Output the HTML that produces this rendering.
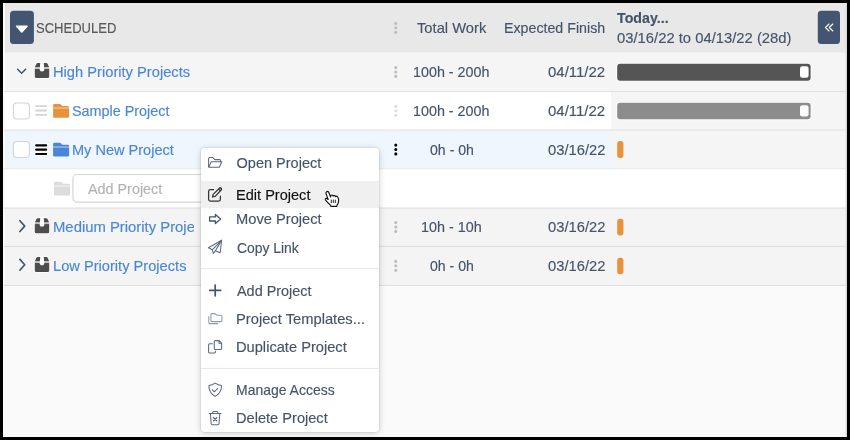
<!DOCTYPE html>
<html>
<head>
<meta charset="utf-8">
<title>Scheduled</title>
<style>
*{box-sizing:border-box;margin:0;padding:0}
html,body{width:850px;height:440px;overflow:hidden;background:#000}
body{font-family:"Liberation Sans",sans-serif;font-size:14.5px;color:#44546a;position:relative}
#app{position:absolute;left:3px;top:3px;width:844px;height:434px;background:#fafafa;overflow:hidden}
#c{position:absolute;left:-3px;top:-3px;width:850px;height:440px}
#bg,#fg{position:absolute;left:0;top:0}
.t{position:absolute;white-space:nowrap;line-height:20px;height:20px;transform-origin:0 50%;-webkit-text-stroke:0.15px currentColor}
.link{color:#4a86d8}
.b{font-weight:bold}
.clip{position:absolute;overflow:hidden}
</style>
</head>
<body>
<div id="app"><div id="c">

<svg id="bg" width="850" height="440" viewBox="0 0 850 440">
  <!-- base -->
  <rect x="0" y="0" width="850" height="440" fill="#fafafa"/>
  <!-- header -->
  <rect x="5" y="0" width="845" height="52.7" fill="#e8e8e8"/>
  <!-- rows -->
  <rect x="5" y="52.7" width="845" height="38.3" fill="#f5f5f5"/>
  <rect x="5" y="91" width="606" height="39" fill="#ffffff"/>
  <rect x="611" y="91" width="239" height="77.5" fill="#f5f5f5"/>
  <rect x="5" y="130" width="606" height="38.5" fill="#eff6fd"/>
  <rect x="5" y="168.5" width="845" height="39.2" fill="#ffffff"/>
  <rect x="5" y="207.7" width="845" height="77.6" fill="#f4f4f4"/>
  <!-- separators -->
  <g fill="#e2e2e2">
    <rect x="4" y="91" width="846" height="1"/>
    <rect x="4" y="129.6" width="846" height="1"/>
    <rect x="4" y="168.25" width="846" height="1" fill="#e6e6e6"/>
    <rect x="4" y="207.6" width="846" height="1" fill="#dddddd"/>
    <rect x="4" y="245.9" width="846" height="1" fill="#dcdcdc"/>
    <rect x="4" y="284.9" width="846" height="1" fill="#dcdcdc"/>
  </g>
  <!-- edges -->
  
  <rect x="845.6" y="3" width="1.4" height="434" fill="#dadada"/>

  <!-- header buttons -->
  <rect x="10" y="10.7" width="23.9" height="33.2" rx="3.5" fill="#435570"/>
  <path d="M16.6 26.2 H27 L21.8 32 Z" fill="#fff" stroke="#fff" stroke-width="1.6" stroke-linejoin="round"/>
  <rect x="817.8" y="10.7" width="22.2" height="33.2" rx="3.5" fill="#435570"/>
  <path d="M829 24 L825.5 27.5 L829 31 M832.8 24 L829.3 27.5 L832.8 31" fill="none" stroke="#fff" stroke-width="1.1" stroke-linecap="round" stroke-linejoin="round"/>

  <!-- vertical ellipsis -->
  <g fill="#bdbdbd">
    <circle cx="395.8" cy="23.4" r="1.55"/><circle cx="395.8" cy="27.8" r="1.55"/><circle cx="395.8" cy="32.2" r="1.55"/>
    <circle cx="395.8" cy="67.6" r="1.55"/><circle cx="395.8" cy="72" r="1.55"/><circle cx="395.8" cy="76.4" r="1.55"/>
    <circle cx="395.8" cy="222.6" r="1.55"/><circle cx="395.8" cy="227" r="1.55"/><circle cx="395.8" cy="231.4" r="1.55"/>
    <circle cx="395.8" cy="261.4" r="1.55"/><circle cx="395.8" cy="265.8" r="1.55"/><circle cx="395.8" cy="270.2" r="1.55"/>
  </g>
  <g fill="#dddddd">
    <circle cx="395.8" cy="106.4" r="1.55"/><circle cx="395.8" cy="110.8" r="1.55"/><circle cx="395.8" cy="115.2" r="1.55"/>
  </g>
  <g fill="#000" stroke="#fff" stroke-width="1.2" paint-order="stroke">
    <circle cx="395.8" cy="145.1" r="1.55"/><circle cx="395.8" cy="149.5" r="1.55"/><circle cx="395.8" cy="153.9" r="1.55"/>
  </g>

  <!-- chevrons -->
  <path d="M17.6 69.2 L21.6 73.2 L25.6 69.2" fill="none" stroke="#44546a" stroke-width="1.5" stroke-linecap="round" stroke-linejoin="round"/>
  <path d="M19.9 220.7 L24.7 226.1 L19.9 231.5" fill="none" stroke="#44546a" stroke-width="1.7" stroke-linecap="round" stroke-linejoin="round"/>
  <path d="M19.9 259.4 L24.7 264.8 L19.9 270.2" fill="none" stroke="#44546a" stroke-width="1.7" stroke-linecap="round" stroke-linejoin="round"/>

  <!-- package icons -->
  <defs>
    <g id="pkg">
      <path d="M2.6 0 H11.8 Q12.4 0 12.7 0.6 L14.4 4.2 H0 L1.7 0.6 Q2 0 2.6 0 Z" fill="#4d4d4d" stroke="#fff" stroke-width="1.4" paint-order="stroke" stroke-linejoin="round"/>
      <path d="M0 5.8 H14.4 V13.4 Q14.4 15 12.8 15 H1.6 Q0 15 0 13.4 Z" fill="#4d4d4d" stroke="#fff" stroke-width="1.4" paint-order="stroke" stroke-linejoin="round"/>
      <rect x="0" y="4.2" width="14.4" height="1.6" fill="#bdbdbd"/>
      <path d="M5.5 -0.8 H8.9 L9.5 6.6 Q9.5 8.4 7.2 8.4 Q4.9 8.4 4.9 6.6 Z" fill="#fff"/>
    </g>
    <g id="fold">
      <path d="M1.4 0 H6.6 Q7.3 0 7.8 0.5 L9.2 2 H14.6 Q16 2 16 3.4 V3.6 H0 V1.4 Q0 0 1.4 0 Z"/>
      <path d="M0 4.6 H16 V12.4 Q16 13.8 14.6 13.8 H1.4 Q0 13.8 0 12.4 Z"/>
    </g>
    <g id="chk">
      <rect x="0.5" y="0.5" width="16" height="16" rx="3.5" fill="#fff" stroke="#d4d4d4" stroke-width="1.1"/>
    </g>
  </defs>
  <use href="#pkg" x="34.8" y="63.1"/>
  <use href="#pkg" x="34.8" y="218.3"/>
  <use href="#pkg" x="34.8" y="257"/>

  <!-- checkboxes -->
  <use href="#chk" x="12.9" y="102.5"/>
  <use href="#chk" x="12.9" y="141"/>

  <!-- drag handles -->
  <g stroke="#d4d4d4" stroke-width="1.8" stroke-linecap="round">
    <path d="M36.1 106.1 H46.2 M36.1 110.5 H46.2 M36.1 114.9 H46.2"/>
  </g>
  <g stroke="#fff" stroke-width="3.6" stroke-linecap="round">
    <path d="M36.2 145.4 H46.1 M36.2 149.7 H46.1 M36.2 154 H46.1"/>
  </g>
  <g stroke="#000" stroke-width="2.2" stroke-linecap="round">
    <path d="M36.2 145.4 H46.1 M36.2 149.7 H46.1 M36.2 154 H46.1"/>
  </g>

  <!-- folders -->
  <rect x="53.1" y="107" width="16" height="2" fill="#f6d3b0"/>
  <use href="#fold" x="53.1" y="104" fill="#e8923c"/>
  <rect x="53.1" y="145.8" width="16" height="2" fill="#b4cdf0"/>
  <use href="#fold" x="53.1" y="142.8" fill="#4a86d8"/>
  <rect x="54" y="184.6" width="16" height="2" fill="#eeeeee"/>
  <use href="#fold" x="54" y="181.8" fill="#dcdcdc"/>

  <!-- add-project input -->
  <rect x="72.9" y="174.5" width="200" height="27.6" rx="4" fill="#fff" stroke="#d6d6d6" stroke-width="1.15"/>

  <!-- gantt bars -->
  <rect x="616.3" y="62.9" width="195.2" height="18.7" rx="3.8" fill="#fff" opacity=".85"/>
  <rect x="617.2" y="63.8" width="193.4" height="16.9" rx="3" fill="#555555"/>
  <rect x="800" y="66.2" width="8.6" height="11.6" rx="2.3" fill="#fff"/>
  <rect x="616.3" y="101.8" width="195.2" height="18.4" rx="3.8" fill="#fff" opacity=".85"/>
  <rect x="617.2" y="102.7" width="193.4" height="16.6" rx="3" fill="#8c8c8c"/>
  <rect x="800" y="105.2" width="8.6" height="11.4" rx="2.3" fill="#fff"/>
  <rect x="617.2" y="141" width="6.2" height="16.9" rx="2.7" fill="#e8923c"/>
  <rect x="617.2" y="218.8" width="6.2" height="16.6" rx="2.7" fill="#e8923c"/>
  <rect x="617.2" y="257.7" width="6.2" height="16.5" rx="2.7" fill="#e8923c"/>
</svg>

<!-- clipped project name (column edge) -->
<div class="clip" style="left:40px;top:208px;width:154.4px;height:38px;will-change:transform"><div class="t link" style="left:13.48px;top:9.30px;transform:scaleX(1.0240)">Medium Priority Projects</div></div>

<!-- context menu -->
<div style="position:absolute;left:201px;top:147.5px;width:178px;height:284px;background:#fff;border-radius:4px;box-shadow:0 0 0 1px rgba(0,0,0,.05),0 1px 6px rgba(0,0,0,.2)"></div>
<svg id="fg" width="850" height="440" viewBox="0 0 850 440">
  <rect x="201" y="181" width="178" height="27.2" fill="#f0f0f0"/>
  <rect x="201" y="268.1" width="178" height="1" fill="#e6e6e6"/>
  <rect x="201" y="367.9" width="178" height="1" fill="#e6e6e6"/>
  <g fill="none" stroke="#5a6a80" stroke-width="1.05" stroke-linecap="round" stroke-linejoin="round">
    <!-- open folder -->
    <path d="M208.6 166.6 V158.6 Q208.6 157.5 209.7 157.5 H212.8 L214.8 159.6 H219.6 Q220.6 159.6 220.6 160.6 V161.6"/>
    <path d="M211.2 161.8 H221.8 L219.4 167.3 H208.8 Z"/>
    <!-- move arrow -->
    <path d="M209.6 216.9 H215.4 V214.4 L220.6 218.95 L215.4 223.5 V221 H209.6 Z" stroke-width="1.3" stroke="#44546a"/>
    <!-- paper plane -->
    <path d="M221.6 240.3 L208.4 247.8 L212.2 249.8 L213.4 253.4 L215.4 250.8 L220.2 252.8 Z"/>
    <path d="M221.6 240.3 L212.2 249.8 M221.6 240.3 L215.4 250.8"/>
    <!-- plus -->
    <path d="M209.8 290.4 H220.6 M215.2 285.1 V295.8" stroke-width="1.7" stroke="#44546a"/>
    <!-- duplicate -->
    <path d="M215.3 340.6 H219.2 L221.6 343 V348.4 Q221.6 349.4 220.6 349.4 H215.3 Q214.3 349.4 214.3 348.4 V341.6 Q214.3 340.6 215.3 340.6 Z M219 340.8 V343.2 H221.4"/>
    <path d="M212.4 343.8 H209.6 Q208.6 343.8 208.6 344.8 V352 Q208.6 353 209.6 353 H214.4 Q215.4 353 215.4 352 V351"/>
    <!-- shield -->
    <path d="M215.2 383.1 Q218.4 385.2 221.5 385.6 Q221.8 392.8 215.2 396.4 Q208.6 392.8 208.9 385.6 Q212 385.2 215.2 383.1 Z"/>
    <path d="M212.4 389.9 L214.3 391.8 L217.8 388.3"/>
    <!-- trash -->
    <path d="M209.2 413.4 H221 M212.4 413.2 L213.2 411.4 H217.2 L218 413.2 M210.4 413.6 L211.2 423.8 Q211.3 424.7 212.2 424.7 H218 Q218.9 424.7 219 423.8 L219.8 413.6"/>
    <path d="M213.5 417.6 L216.8 420.9 M216.8 417.6 L213.5 420.9" stroke-width="1.25" stroke="#44546a"/>
  </g>
  <!-- templates (lighter) -->
  <g fill="none" stroke="#8f9bab" stroke-width="1.05" stroke-linecap="round" stroke-linejoin="round">
    <path d="M211.9 313.6 H215 L216.6 315.2 H221 Q222 315.2 222 316.2 V320.6 Q222 321.6 221 321.6 H211.9 Q210.9 321.6 210.9 320.6 V314.6 Q210.9 313.6 211.9 313.6 Z"/>
    <path d="M208.8 316.6 V322.6 Q208.8 323.6 209.8 323.6 H217.6"/>
  </g>
  <!-- edit (dark) -->
  <g fill="none" stroke="#333" stroke-width="1.25" stroke-linecap="round" stroke-linejoin="round">
    <path d="M213.6 189.6 H210.4 Q208.6 189.6 208.6 191.4 V199.2 Q208.6 201 210.4 201 H218.6 Q220.4 201 220.4 199.2 V196.2"/>
    <path d="M212.6 197 L213.2 194.4 L219.6 188 Q220.4 187.4 221.2 188.2 Q222 189 221.4 189.8 L215.2 196.4 Z M218.6 189 L220.4 190.8"/>
  </g>
  <!-- hand cursor -->
  <path id="hand" d="M326.4 192 Q327.4 190.7 328.6 192 L330.6 197 L330.8 195.7 Q331.8 194.3 332.9 195.7 L333.1 196.1 Q334.1 194.7 335.2 196.1 L335.4 196.7 Q336.6 195.5 337.6 196.9 Q339.2 199 338.6 201.6 Q338.2 203.8 337 205.2 L336.8 206.4 L331 206.4 L330.4 205.2 Q327.6 202.6 325.4 199.8 Q324.8 198.4 326.4 198.2 L328.2 199.4 L326 193.6 Q325.8 192.6 326.4 192 Z" fill="#fff" stroke="#fff" stroke-width="2.6" stroke-linejoin="round" opacity="0.9"/>
  <path d="M326.4 192 Q327.4 190.7 328.6 192 L330.6 197 L330.8 195.7 Q331.8 194.3 332.9 195.7 L333.1 196.1 Q334.1 194.7 335.2 196.1 L335.4 196.7 Q336.6 195.5 337.6 196.9 Q339.2 199 338.6 201.6 Q338.2 203.8 337 205.2 L336.8 206.4 L331 206.4 L330.4 205.2 Q327.6 202.6 325.4 199.8 Q324.8 198.4 326.4 198.2 L328.2 199.4 L326 193.6 Q325.8 192.6 326.4 192 Z" fill="#fff" stroke="#111" stroke-width="1.15" stroke-linejoin="round"/>
  <path d="M331.3 199.6 V203 M333.3 199.6 V203 M335.3 199.6 V203" stroke="#111" stroke-width="0.9" fill="none"/>
</svg>

<div id="tx" style="position:absolute;left:0;top:0;width:850px;height:440px;will-change:transform"><div class="t" style="left:35.90px;top:17.90px;transform:scaleX(0.8976);color:#595959">SCHEDULED</div>
<div class="t" style="left:416.70px;top:17.90px;transform:scaleX(1.0149);">Total Work</div>
<div class="t" style="left:503.92px;top:17.90px;transform:scaleX(0.9804);">Expected Finish</div>
<div class="t b" style="left:617.40px;top:7.90px;transform:scaleX(0.9809);">Today...</div>
<div class="t" style="left:617.40px;top:28.00px;transform:scaleX(1.0207);">03/16/22 to 04/13/22 (28d)</div>
<div class="t link" style="left:52.89px;top:61.70px;transform:scaleX(1.0125);">High Priority Projects</div>
<div class="t" style="left:413.01px;top:62.10px;transform:scaleX(0.9877);">100h - 200h</div>
<div class="t" style="left:547.60px;top:62.10px;transform:scaleX(1.0325);">04/11/22</div>
<div class="t link" style="left:72.30px;top:101.00px;transform:scaleX(0.9909);">Sample Project</div>
<div class="t" style="left:413.01px;top:101.20px;transform:scaleX(0.9877);">100h - 200h</div>
<div class="t" style="left:547.60px;top:101.20px;transform:scaleX(1.0325);">04/11/22</div>
<div class="t link" style="left:71.60px;top:139.60px;transform:scaleX(1.0031);">My New Project</div>
<div class="t" style="left:429.60px;top:140.00px;transform:scaleX(0.9739);">0h - 0h</div>
<div class="t" style="left:547.60px;top:140.00px;transform:scaleX(1.0164);">03/16/22</div>
<div class="t" style="left:87.70px;top:179.00px;transform:scaleX(0.9903);color:#b3b3b3">Add Project</div>
<div class="t" style="left:420.81px;top:217.40px;transform:scaleX(0.9916);">10h - 10h</div>
<div class="t" style="left:547.60px;top:217.40px;transform:scaleX(1.0164);">03/16/22</div>
<div class="t link" style="left:53.39px;top:256.00px;transform:scaleX(1.0099);">Low Priority Projects</div>
<div class="t" style="left:429.70px;top:256.20px;transform:scaleX(0.9716);">0h - 0h</div>
<div class="t" style="left:547.60px;top:256.20px;transform:scaleX(1.0164);">03/16/22</div>
<div class="t" style="left:236.60px;top:153.00px;transform:scaleX(1.0000);">Open Project</div>
<div class="t" style="left:235.60px;top:185.40px;transform:scaleX(1.0039);color:#111">Edit Project</div>
<div class="t" style="left:235.59px;top:209.20px;transform:scaleX(1.0121);">Move Project</div>
<div class="t" style="left:236.60px;top:237.50px;transform:scaleX(0.9566);">Copy Link</div>
<div class="t" style="left:236.75px;top:280.75px;transform:scaleX(0.9943);">Add Project</div>
<div class="t" style="left:235.58px;top:309.10px;transform:scaleX(1.0152);">Project Templates...</div>
<div class="t" style="left:235.59px;top:337.00px;transform:scaleX(1.0103);">Duplicate Project</div>
<div class="t" style="left:235.64px;top:380.30px;transform:scaleX(0.9636);">Manage Access</div>
<div class="t" style="left:235.59px;top:408.40px;transform:scaleX(1.0073);">Delete Project</div></div>

</div></div>
</body>
</html>
